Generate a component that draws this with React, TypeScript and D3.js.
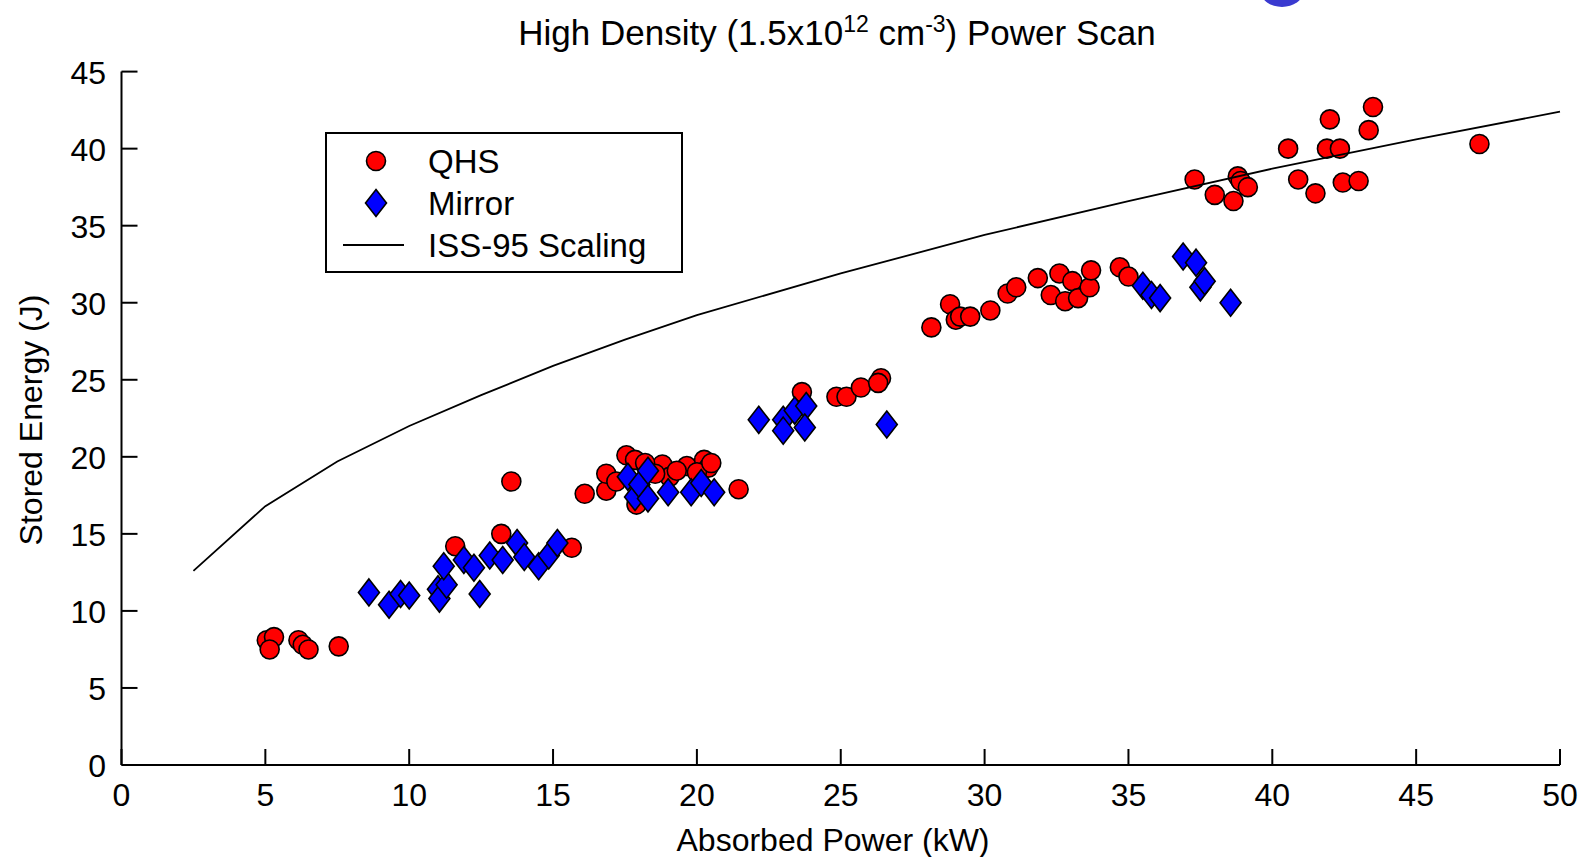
import React from "react";
import * as d3 from "d3";

const qhsX = [5.05, 5.3, 5.15, 6.15, 6.3, 6.5, 7.55, 11.6, 13.2, 13.55, 15.65, 16.1, 16.85, 16.85, 17.55, 17.85, 17.9, 18.3, 18.8, 19.05, 19.65, 20.25, 20.4, 20.0, 21.45, 17.2, 18.2, 18.55, 19.3, 20.5, 23.65, 24.85, 25.2, 25.7, 26.4, 26.3, 28.15, 28.8, 29.0, 29.15, 29.5, 30.2, 30.8, 31.1, 31.85, 32.3, 32.6, 32.8, 33.05, 33.25, 33.65, 33.7, 34.7, 35.0, 37.3, 38.0, 38.65, 38.8, 38.9, 39.15, 40.55, 40.9, 41.5, 42.0, 41.9, 42.35, 42.45, 43.0, 43.35, 43.5, 47.2];
const qhsY = [8.1, 8.3, 7.5, 8.1, 7.8, 7.5, 7.7, 14.2, 15.0, 18.4, 14.1, 17.6, 17.8, 18.9, 20.1, 19.8, 16.9, 19.3, 19.5, 18.7, 19.4, 19.8, 19.3, 19.0, 17.9, 18.4, 19.6, 18.9, 19.1, 19.6, 24.2, 23.9, 23.9, 24.5, 25.1, 24.8, 28.4, 29.9, 28.9, 29.1, 29.1, 29.5, 30.6, 31.0, 31.6, 30.5, 31.9, 30.1, 31.4, 30.3, 31.0, 32.1, 32.3, 31.7, 38.0, 37.0, 36.6, 38.2, 37.9, 37.5, 40.0, 38.0, 37.1, 41.9, 40.0, 40.0, 37.8, 37.9, 41.2, 42.7, 40.3];

const mirrorX = [8.6, 9.3, 9.7, 10.0, 11.0, 11.05, 11.3, 11.2, 11.9, 12.25, 12.45, 12.8, 13.25, 13.75, 14.0, 14.5, 14.85, 15.15, 17.6, 17.85, 18.0, 18.3, 18.3, 19.0, 19.8, 20.15, 20.6, 22.15, 23.0, 23.0, 23.4, 23.8, 23.75, 26.6, 35.5, 35.8, 36.1, 36.9, 37.35, 37.5, 37.65, 38.55];
const mirrorY = [11.2, 10.4, 11.1, 11.0, 11.4, 10.8, 11.7, 12.9, 13.3, 12.8, 11.1, 13.6, 13.3, 14.4, 13.5, 12.9, 13.6, 14.4, 18.7, 17.4, 18.2, 19.1, 17.3, 17.7, 17.7, 18.3, 17.7, 22.4, 22.4, 21.7, 23.0, 23.3, 21.9, 22.1, 31.1, 30.5, 30.3, 33.0, 32.6, 31.0, 31.4, 30.0];

const issX = [2.5, 5, 7.5, 10, 12.5, 15, 17.5, 20, 25, 30, 35, 40, 45, 50];
const issY = [12.6, 16.8, 19.7, 22.0, 24.0, 25.9, 27.6, 29.2, 31.9, 34.4, 36.6, 38.7, 40.6, 42.4];

const xTicks = [0, 5, 10, 15, 20, 25, 30, 35, 40, 45, 50];
const yTicks = [0, 5, 10, 15, 20, 25, 30, 35, 40, 45];

const legendLabels = ["QHS", "Mirror", "ISS-95 Scaling"];

const W = 1581;
const H = 857;
const FONT = "'Liberation Sans', Arial, sans-serif";

export default function App() {
  const x = d3.scaleLinear().domain([0, 50]).range([121.5, 1560]);
  const y = d3.scaleLinear().domain([0, 45]).range([765, 71.6]);
  const line = d3
    .line<number>()
    .x((_, i) => x(issX[i]))
    .y((d) => y(d));
  const diamond = "M0,-13.5L10.5,0L0,13.5L-10.5,0Z";
  const tickLen = 16;

  return (
    <svg
      width={W}
      height={H}
      style={{ position: "absolute", left: 0, top: 0, background: "#fff" }}
      fontFamily={FONT}
    >
      <rect x={0} y={0} width={W} height={H} fill="#fff" />
      <ellipse cx={1282} cy={-8} rx={21} ry={15} fill="#3a3ad0" />

      {/* title */}
      <text x={837} y={45} fontSize={35} textAnchor="middle" fill="#000">
        High Density (1.5x10
        <tspan fontSize={23} dy={-13}>12</tspan>
        <tspan dy={13}> cm</tspan>
        <tspan fontSize={23} dy={-13}>-3</tspan>
        <tspan dy={13}>) Power Scan</tspan>
      </text>

      {/* axes */}
      <line x1={x(0)} x2={x(50)} y1={y(0)} y2={y(0)} stroke="#000" strokeWidth={2} />
      <line x1={x(0)} x2={x(0)} y1={y(0)} y2={y(45)} stroke="#000" strokeWidth={2} />
      {xTicks.map((t) => (
        <g key={"xt" + t}>
          <line x1={x(t)} x2={x(t)} y1={y(0)} y2={y(0) - tickLen} stroke="#000" strokeWidth={2} />
          <text x={x(t)} y={806} fontSize={32} textAnchor="middle" fill="#000">
            {t}
          </text>
        </g>
      ))}
      {yTicks.map((t) => (
        <g key={"yt" + t}>
          <line x1={x(0)} x2={x(0) + tickLen} y1={y(t)} y2={y(t)} stroke="#000" strokeWidth={2} />
          <text x={106} y={y(t) + 12} fontSize={32} textAnchor="end" fill="#000">
            {t}
          </text>
        </g>
      ))}

      {/* axis labels */}
      <text x={833} y={851} fontSize={32} textAnchor="middle" fill="#000">
        Absorbed Power (kW)
      </text>
      <text
        transform={`translate(42,420) rotate(-90)`}
        fontSize={32}
        textAnchor="middle"
        fill="#000"
      >
        Stored Energy (J)
      </text>

      {/* data */}
      {qhsX.map((v, i) => (
        <circle key={"q" + i} cx={x(v)} cy={y(qhsY[i])} r={9.5} fill="#ff0000" stroke="#000" strokeWidth={1.6} />
      ))}
      {mirrorX.map((v, i) => (
        <path
          key={"m" + i}
          d={diamond}
          transform={`translate(${x(v)},${y(mirrorY[i])})`}
          fill="#0000ff"
          stroke="#000"
          strokeWidth={1.6}
        />
      ))}
      <path d={line(issY) || ""} fill="none" stroke="#000" strokeWidth={1.8} />

      {/* legend */}
      <rect x={326} y={133} width={356} height={139} fill="#fff" stroke="#000" strokeWidth={2} />
      <circle cx={376} cy={161} r={9.5} fill="#ff0000" stroke="#000" strokeWidth={1.6} />
      <path d={diamond} transform="translate(376,203)" fill="#0000ff" stroke="#000" strokeWidth={1.6} />
      <line x1={343} x2={404} y1={245} y2={245} stroke="#000" strokeWidth={1.8} />
      {legendLabels.map((l, i) => (
        <text key={l} x={428} y={173 + i * 42} fontSize={33} fill="#000">
          {l}
        </text>
      ))}
    </svg>
  );
}
